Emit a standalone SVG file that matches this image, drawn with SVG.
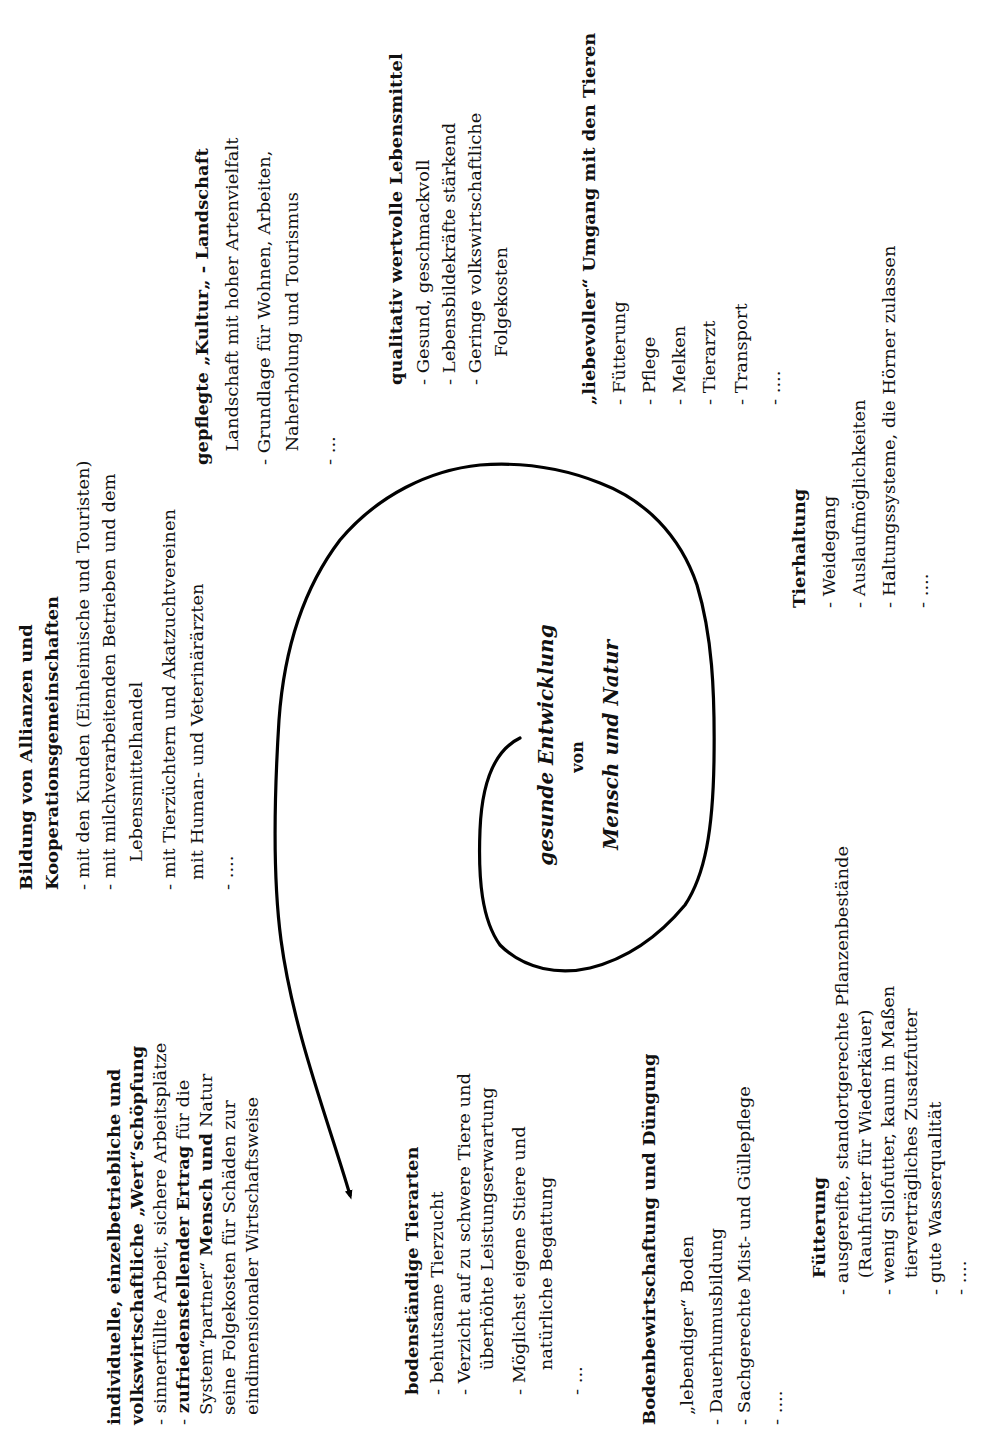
<svg xmlns="http://www.w3.org/2000/svg" width="1002" height="1443" viewBox="0 0 1002 1443">
<defs>
<style>
text{font-family:"DejaVu Serif","Liberation Serif",serif;font-size:16px;fill:#111}
.b{font-weight:bold}
.c{font-weight:bold;font-style:italic;font-size:20px}
.spiral{fill:none;stroke:#000;stroke-width:3.2;stroke-linecap:round;stroke-linejoin:round}
</style>
<marker id="tip" viewBox="0 0 10 10" refX="5" refY="5" markerWidth="3" markerHeight="3" orient="auto">
<path d="M0,1 L10,5 L0,9 Z" fill="#000"/>
</marker>
</defs>
<rect width="1002" height="1443" fill="#fff"/>

<g id="connectors">
<path class="spiral" marker-end="url(#tip)" d="M520,738 C495,750 482,780 480,830 C478,880 482,920 500,945 C525,970 560,975 590,968 C630,958 660,935 685,905 C705,875 713,830 714,760 C715,690 712,635 697,585 C680,535 645,500 600,483 C560,467 520,462 480,465 C430,470 378,495 340,540 C302,590 284,650 279,720 C274,800 273,880 281,940 C293,1030 328,1120 350,1195"/>
</g>

<g id="center">
<text class="c" text-anchor="middle" transform="translate(553,745) rotate(-90)">gesunde Entwicklung</text>
<text class="b" text-anchor="middle" transform="translate(583,757) rotate(-90)">von</text>
<text class="c" text-anchor="middle" transform="translate(618,745) rotate(-90)">Mensch und Natur</text>
</g>

<g id="individuelle" transform="translate(120,1425) rotate(-90) scale(1.12,1)">
<text class="b" y="0">individuelle, einzelbetriebliche und</text>
<text class="b" y="23">volkswirtschaftliche „Wert“schöpfung</text>
<text y="46">- sinnerfüllte Arbeit, sichere Arbeitsplätze</text>
<text y="69">- <tspan class="b">zufriedenstellender Ertrag</tspan> für die</text>
<text x="9" y="92">System“partner“ <tspan class="b">Mensch und</tspan> Natur</text>
<text x="9" y="115">seine Folgekosten für Schäden zur</text>
<text x="9" y="138">eindimensionaler Wirtschaftsweise</text>
</g>

<g id="allianzen" transform="translate(32,890) rotate(-90) scale(1.12,1)">
<text class="b" y="0">Bildung von Allianzen und</text>
<text class="b" y="26">Kooperationsgemeinschaften</text>
<text y="57">- mit den Kunden (Einheimische und Touristen)</text>
<text y="83">- mit milchverarbeitenden Betrieben und dem</text>
<text x="25" y="110">Lebensmittelhandel</text>
<text y="143">- mit Tierzüchtern und Akatzuchtvereinen</text>
<text x="9" y="171">mit Human- und Veterinärärzten</text>
<text y="201">- ....</text>
</g>

<g id="landschaft" transform="translate(208,465) rotate(-90) scale(1.12,1)">
<text class="b" y="0">gepflegte „Kultur„ - Landschaft</text>
<text x="12" y="30">Landschaft mit hoher Artenvielfalt</text>
<text y="62">- Grundlage für Wohnen, Arbeiten,</text>
<text x="12" y="90">Naherholung und Tourismus</text>
<text y="127">- ...</text>
</g>

<g id="lebensmittel" transform="translate(402,385) rotate(-90) scale(1.12,1)">
<text class="b" y="0">qualitativ wertvolle Lebensmittel</text>
<text y="27">- Gesund, geschmackvoll</text>
<text y="53">- Lebensbildekräfte stärkend</text>
<text y="79">- Geringe volkswirtschaftliche</text>
<text x="25" y="105">Folgekosten</text>
</g>

<g id="umgang" transform="translate(595,405) rotate(-90) scale(1.12,1)">
<text class="b" y="0">„liebevoller“ Umgang mit den Tieren</text>
<text y="30">- Fütterung</text>
<text y="60">- Pflege</text>
<text y="90">- Melken</text>
<text y="120">- Tierarzt</text>
<text y="152">- Transport</text>
<text y="185">- ....</text>
</g>

<g id="tierhaltung" transform="translate(805,608) rotate(-90) scale(1.12,1)">
<text class="b" y="0">Tierhaltung</text>
<text y="30">- Weidegang</text>
<text y="60">- Auslaufmöglichkeiten</text>
<text y="90">- Haltungssysteme, die Hörner zulassen</text>
<text y="123">- ....</text>
</g>

<g id="tierarten" transform="translate(418,1395) rotate(-90) scale(1.12,1)">
<text class="b" y="0">bodenständige Tierarten</text>
<text y="25">- behutsame Tierzucht</text>
<text y="52">- Verzicht auf zu schwere Tiere und</text>
<text x="22" y="75">überhöhte Leistungserwartung</text>
<text y="107">- Möglichst eigene Stiere und</text>
<text x="22" y="134">natürliche Begattung</text>
<text y="164">- ...</text>
</g>

<g id="boden" transform="translate(655,1425) rotate(-90) scale(1.12,1)">
<text class="b" y="0">Bodenbewirtschaftung und Düngung</text>
<text x="9" y="38">„lebendiger“ Boden</text>
<text y="67">- Dauerhumusbildung</text>
<text y="95">- Sachgerechte Mist- und Güllepflege</text>
<text y="127">- ....</text>
</g>

<g id="fuetterung" transform="translate(825,1295) rotate(-90) scale(1.12,1)">
<text class="b" x="15" y="0">Fütterung</text>
<text y="23">- ausgereifte, standortgerechte Pflanzenbestände</text>
<text x="15" y="46">(Rauhfutter für Wiederkäuer)</text>
<text y="69">- wenig Silofutter, kaum in Maßen</text>
<text x="15" y="92">tierverträgliches Zusatzfutter</text>
<text y="116">- gute Wasserqualität</text>
<text y="141">- ....</text>
</g>
</svg>
